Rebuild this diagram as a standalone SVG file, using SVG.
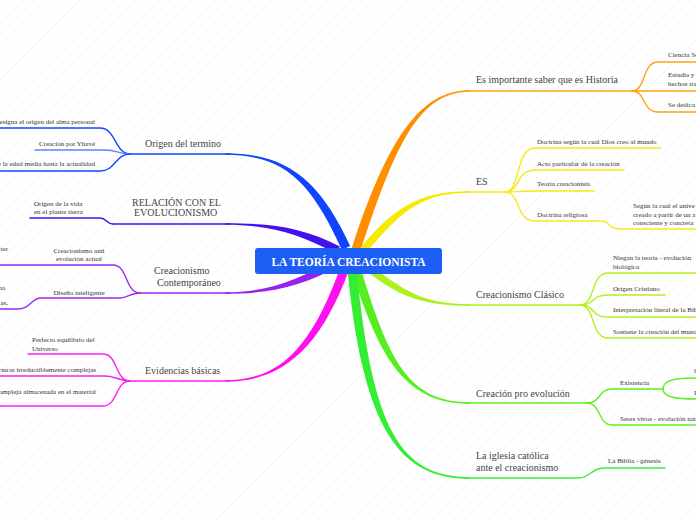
<svg xmlns="http://www.w3.org/2000/svg" width="696" height="520" viewBox="0 0 696 520">
<defs>
<pattern id="stripes" width="8" height="8" patternUnits="userSpaceOnUse" patternTransform="rotate(45)">
<line x1="0" y1="0" x2="0" y2="8" stroke="#f1f1f1" stroke-width="1"/>
</pattern>
<style>
.main{font-family:"Liberation Serif","Times New Roman",serif;font-size:10px;fill:#444}
.sub{font-family:"Liberation Serif","Times New Roman",serif;font-size:7px;fill:#333}
.ln{fill:none;stroke-width:1.4;stroke-linecap:round}
.or{stroke:#ffa31a}.ye{stroke:#f7e81a}.li{stroke:#b4f01e}.gr{stroke:#5ff01e}.gr2{stroke:#3ced3c}
.bl{stroke:#1347ff}.in{stroke:#4412ee}.pu{stroke:#9a2aee}.ma{stroke:#ff1ef0}
</style>
</defs>
<rect width="696" height="520" fill="#ffffff"/>
<rect width="696" height="520" fill="url(#stripes)"/>

<g id="connectors">
<!-- thick main branches -->
<path fill="#ff8f00" d="M351.7,248.6 C387.7,138.6 420,90.2 470,90.2 L470,91.8 C420,91.8 396.3,141.4 360.3,251.4 Z"/>
<path fill="#f7ea00" d="M358.9,249.5 C396.9,202.5 425,191.2 470,191.2 L470,192.8 C425,192.8 403.1,207.5 365.1,254.5 Z"/>
<path fill="#b0f020" d="M364.6,259 C402.6,292 425,304.2 470,304.2 L470,305.8 C425,305.8 397.4,298 359.4,265 Z"/>
<path fill="#55ee1e" d="M360.3,266.7 C389.3,363.7 410,402.2 470,402.2 L470,403.8 C410,403.8 380.7,366.3 351.7,269.3 Z"/>
<path fill="#33ee33" d="M356.5,269.6 C372.5,429.6 400,477.2 470,477.2 L470,478.8 C400,478.8 363.5,430.4 347.5,270.4 Z"/>
<path fill="#1144ff" d="M341.9,249.9 C310.9,181.9 285,154.8 225,154.8 L225,153.2 C285,153.2 319.1,178.1 350.1,246.1 Z"/>
<path fill="#4411ee" d="M336.1,253.5 C298.1,233.5 270,224.8 225,224.8 L225,223.2 C270,223.2 301.9,226.5 339.9,246.5 Z"/>
<path fill="#9922ee" d="M339.9,265.5 C301.9,286.5 270,293.8 225,293.8 L225,292.2 C270,292.2 298.1,279.5 336.1,258.5 Z"/>
<path fill="#ff11ee" d="M349.2,269.6 C319.2,351.6 280,381.8 225,381.8 L225,380.2 C280,380.2 310.8,348.4 340.8,266.4 Z"/>

<!-- orange -->
<path class="ln or" d="M465,91 L632,91"/>
<path class="ln or" d="M632,91 C646,91 642,62 658,62 L696,62"/>
<path class="ln or" d="M632,91 L696,91"/>
<path class="ln or" d="M632,91 C646,91 642,112 658,112 L696,112"/>
<!-- yellow -->
<path class="ln ye" d="M465,192 L505,192"/>
<path class="ln ye" d="M505,192 C521,192 515,148 535,148 L661,148"/>
<path class="ln ye" d="M505,192 C521,192 515,170 535,170 L624,170"/>
<path class="ln ye" d="M505,192 C515,192 520,191 535,191 L594,191"/>
<path class="ln ye" d="M505,192 C521,192 515,221 535,221 L602,221 C611,221 606,229 622,229 L696,229"/>
<!-- lime -->
<path class="ln li" d="M465,305 L580,305"/>
<path class="ln li" d="M580,305 C596,305 590,273 608,273 L696,273"/>
<path class="ln li" d="M580,305 C596,305 590,295 608,295 L665,295"/>
<path class="ln li" d="M580,305 C596,305 590,317 608,317 L696,317"/>
<path class="ln li" d="M580,305 C596,305 590,338 608,338 L696,338"/>
<!-- green pro evolucion -->
<path class="ln gr" d="M465,403 L587,403"/>
<path class="ln gr" d="M587,403 C601,403 598,389 612,389 L663,389"/>
<path class="ln gr" d="M663,389 C663,380 675,378 696,378"/>
<path class="ln gr" d="M663,389 C663,397 675,399 696,399"/>
<path class="ln gr" d="M587,403 C601,403 598,425 612,425 L696,425"/>
<!-- green iglesia -->
<path class="ln gr2" d="M465,478 L578,478 C591,478 590,468 605,468 L665,468"/>
<!-- blue -->
<path class="ln bl" d="M130,154 L230,154"/>
<path class="ln bl" d="M130,154 C115,154 116,128 100,128 L0,128"/>
<path class="ln" stroke="#5c82ff" stroke-width="1.6" d="M130,154 C120,154 116,150 105,150 L35,150"/>
<path class="ln bl" d="M130,154 C115,154 116,171 100,171 L0,171"/>
<!-- indigo -->
<path class="ln in" d="M113,224 L230,224"/>
<path class="ln in" d="M113,224 C106,224 107,218 100,218 L30,218"/>
<!-- purple -->
<path class="ln pu" d="M140,293 L230,293"/>
<path class="ln pu" d="M140,293 C125,293 128,265 113,265 L0,265"/>
<path class="ln pu" d="M140,293 C130,293 128,298 120,298 L41,298 C31,298 31,309 17,309 L0,309"/>
<!-- magenta -->
<path class="ln ma" d="M130,381 L230,381"/>
<path class="ln ma" d="M130,381 C115,381 118,354 103,354 L28,354"/>
<path class="ln ma" d="M130,381 C120,381 115,376 105,376 L0,376"/>
<path class="ln ma" d="M130,381 C115,381 118,406 103,406 L0,406"/>
</g>

<g id="center">
<rect x="255" y="248" width="187" height="26" rx="3" fill="#1d5ef5"/>
<text x="348.5" y="265.5" text-anchor="middle" font-family="'Liberation Serif','Times New Roman',serif" font-size="11.5" font-weight="bold" fill="#ffffff">LA TEORÍA CREACIONISTA</text>
</g>

<g id="historia">
<text class="main" x="476" y="83">Es importante saber que es Historia</text>
<text class="sub" x="668" y="57">Ciencia So</text>
<text class="sub" x="668" y="77">Estudia y</text>
<text class="sub" x="668" y="86">hechos tra</text>
<text class="sub" x="668" y="107">Se dedica</text>
</g>

<g id="es">
<text class="main" x="476" y="185">ES</text>
<text class="sub" x="537" y="143.5">Doctrina según la cual Dios creo al mundo</text>
<text class="sub" x="537" y="165.5">Acto particular de la creación</text>
<text class="sub" x="537" y="186">Teoría creacionista</text>
<text class="sub" x="537" y="216.5">Doctrina religiosa</text>
<text class="sub" x="633" y="207.5">Según la cual el unive</text>
<text class="sub" x="633" y="216.5">creado a partir de un a</text>
<text class="sub" x="633" y="225">consciente y concreta</text>
</g>

<g id="clasico">
<text class="main" x="476" y="298">Creacionismo Clásico</text>
<text class="sub" x="613" y="259.5">Niegan la  teoría - evolución</text>
<text class="sub" x="613" y="268.5">biológica</text>
<text class="sub" x="613" y="290.5">Origen Cristiano</text>
<text class="sub" x="613" y="311.5">Interpretación literal de la Bib</text>
<text class="sub" x="613" y="333.5">Sostiene la creación del mund</text>
</g>

<g id="proevolucion">
<text class="main" x="476" y="397">Creación pro evolución</text>
<text class="sub" x="620" y="384.5">Existencia</text>
<text class="sub" x="694" y="373">C</text>
<text class="sub" x="694" y="394.5">I</text>
<text class="sub" x="620" y="420.5">Seres vivos - evolución nat</text>
</g>

<g id="iglesia">
<text class="main" x="476" y="459">La iglesia católica</text>
<text class="main" x="476" y="471">ante el creacionismo</text>
<text class="sub" x="608" y="462.5">La Biblia - génesis</text>
</g>

<g id="origen">
<text class="main" x="145" y="147">Origen del termino</text>
<text class="sub" x="95" y="123.5" text-anchor="end">esigna el origen del alma personal</text>
<text class="sub" x="95" y="145.5" text-anchor="end">Creación por Yhavé</text>
<text class="sub" x="95" y="165.5" text-anchor="end">e la edad media hasta la actualidad</text>
</g>

<g id="relacion">
<text class="main" x="132" y="205.5">RELACIÓN CON EL</text>
<text class="main" x="134" y="216">EVOLUCIONISMO</text>
<text class="sub" x="34" y="205.5">Origen de la vida</text>
<text class="sub" x="34" y="214">en el plante tierra</text>
</g>

<g id="contemporaneo">
<text class="main" x="154" y="274">Creacionismo</text>
<text class="main" x="157" y="286">Contemporáneo</text>
<text class="sub" x="79" y="252.5" text-anchor="middle">Creacionismo anti</text>
<text class="sub" x="79" y="261" text-anchor="middle">evolución actual</text>
<text class="sub" x="79" y="294.5" text-anchor="middle">Diseño inteligente</text>
<text class="sub" x="8" y="251" text-anchor="end">ter</text>
<text class="sub" x="5" y="289.5" text-anchor="end">na</text>
<text class="sub" x="8" y="305" text-anchor="end">as,</text>
</g>

<g id="evidencias">
<text class="main" x="145" y="374">Evidencias básicas</text>
<text class="sub" x="32" y="341.5">Perfecto equilibrio del</text>
<text class="sub" x="32" y="350.5">Universo</text>
<text class="sub" x="96" y="371.5" text-anchor="end">cturas irreductiblemente complejas</text>
<text class="sub" x="96" y="393.5" text-anchor="end">ompleja almacenada en el material</text>
</g>
</svg>
